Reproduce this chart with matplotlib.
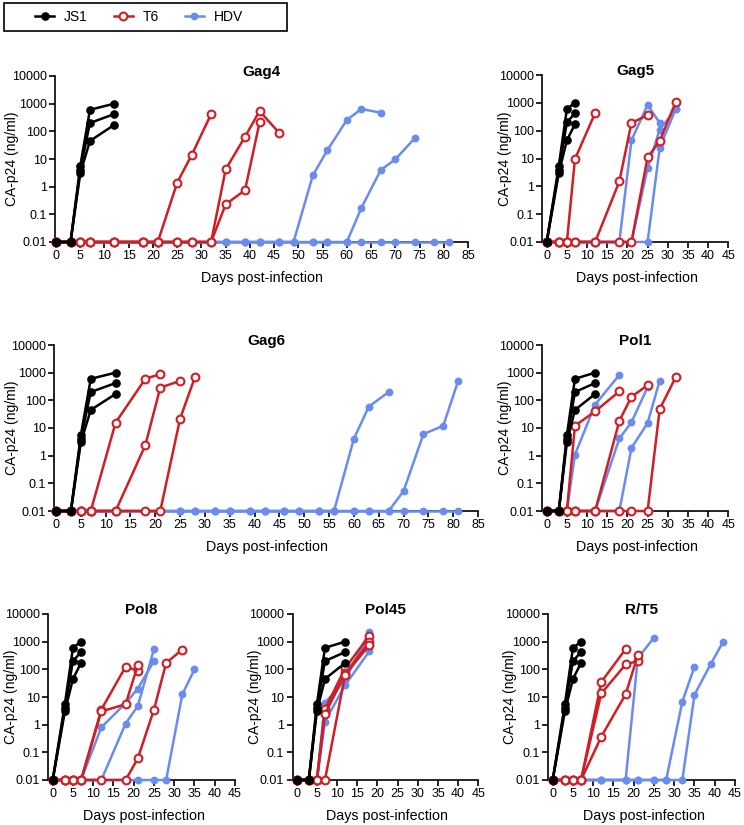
import matplotlib
matplotlib.use('Agg')
import matplotlib.pyplot as plt
from matplotlib.lines import Line2D
from matplotlib.patches import Rectangle

plt.rcParams['font.family'] = ['Liberation Sans', 'DejaVu Sans']

B = 0.01  # detection limit / baseline value

# ---------------- data ----------------
JS1_DAYS_LONG = [0, 3, 5, 7, 12]
JS1_VALUES_LONG = [[B, B, 5.5, 600, 1000], [B, B, 4, 200, 420], [B, B, 3, 45, 170]]
JS1_DAYS_SHORT = [0, 3, 5, 7]
JS1_VALUES_SHORT = [[B, 5.5, 600, 1000], [B, 4, 200, 420], [B, 3, 45, 170]]

LONG_DAYS = [0, 3, 5, 7, 12, 18, 21, 25, 28, 32, 35, 39, 42, 46, 49, 53, 56, 60, 63, 67, 70, 74, 78, 81]

GAG4_T6 = [
    ([0, 3, 5, 7, 12, 18, 21, 25, 28, 32], [B, B, B, B, B, B, B, 1.4, 14, 420]),
    ([0, 3, 5, 7, 12, 18, 21, 25, 28, 32, 35, 39, 42, 46], [B, B, B, B, B, B, B, B, B, B, 4.2, 64, 540, 90]),
    ([0, 3, 5, 7, 12, 18, 21, 25, 28, 32, 35, 39, 42], [B, B, B, B, B, B, B, B, B, B, 0.23, 0.75, 210]),
]
GAG4_HDV = [
    ([0, 3, 5, 7, 12, 18, 21, 25, 28, 32, 35, 39, 42, 46, 49, 53, 56, 60, 63, 67],
     [B, B, B, B, B, B, B, B, B, B, B, B, B, B, B, 2.6, 21, 257, 646, 470]),
    ([0, 3, 5, 7, 12, 18, 21, 25, 28, 32, 35, 39, 42, 46, 49, 53, 56, 60, 63, 67, 70, 74],
     [B, B, B, B, B, B, B, B, B, B, B, B, B, B, B, B, B, B, 0.17, 4, 9.7, 56]),
    (LONG_DAYS, [B, B, B, B, B, B, B, B, B, B, B, B, B, B, B, B, B, B, B, B, B, B, B, B]),
]

GAG5_T6 = [
    ([0, 3, 5, 7, 12], [B, B, B, 9.5, 430]),
    ([0, 3, 5, 7, 12, 18, 21, 25], [B, B, B, B, B, 1.5, 190, 360]),
    ([0, 3, 5, 7, 12, 18, 21, 25, 28, 32], [B, B, B, B, B, B, B, 11, 42, 1100]),
]
GAG5_HDV = [
    ([0, 3, 5, 7, 12, 18, 21, 25, 28], [B, B, B, B, B, B, 45, 850, 190]),
    ([0, 3, 5, 7, 12, 18, 21, 25, 28, 32], [B, B, B, B, B, B, B, 4.5, 110, 600]),
    ([0, 3, 5, 7, 12, 18, 21, 25, 28, 32], [B, B, B, B, B, B, B, B, 24, 620]),
]

GAG6_T6 = [
    ([0, 3, 5, 7, 12, 18, 21], [B, B, B, B, 15.6, 600, 890]),
    ([0, 3, 5, 7, 12, 18, 21, 25], [B, B, B, B, B, 2.4, 290, 500]),
    ([0, 3, 5, 7, 12, 18, 21, 25, 28], [B, B, B, B, B, B, B, 22, 700]),
]
GAG6_HDV = [
    ([0, 3, 5, 7, 12, 18, 21, 25, 28, 32, 35, 39, 42, 46, 49, 53, 56, 60, 63, 67],
     [B, B, B, B, B, B, B, B, B, B, B, B, B, B, B, B, B, 4.1, 59, 200]),
    (LONG_DAYS, [B, B, B, B, B, B, B, B, B, B, B, B, B, B, B, B, B, B, B, B, 0.052, 6, 12, 500]),
    (LONG_DAYS, [B, B, B, B, B, B, B, B, B, B, B, B, B, B, B, B, B, B, B, B, B, B, B, B]),
]

POL1_T6 = [
    ([0, 3, 5, 7, 12, 18], [B, B, B, 12, 40, 210]),
    ([0, 3, 5, 7, 12, 18, 21, 25], [B, B, B, B, B, 18, 135, 350]),
    ([0, 3, 5, 7, 12, 18, 21, 25, 28, 32], [B, B, B, B, B, B, B, B, 48, 700]),
]
POL1_HDV = [
    ([0, 3, 5, 7, 12, 18], [B, B, B, 1.1, 70, 830]),
    ([0, 3, 5, 7, 12, 18, 21, 25], [B, B, B, B, B, 4.2, 16, 300]),
    ([0, 3, 5, 7, 12, 18, 21, 25, 28], [B, B, B, B, B, B, 1.9, 15, 520]),
]

POL8_T6 = [
    ([0, 3, 5, 7, 12, 18, 21], [B, B, B, B, 3.5, 125, 90]),
    ([0, 3, 5, 7, 12, 18, 21], [B, B, B, B, 3.0, 5.5, 140]),
    ([0, 3, 5, 7, 12, 18, 21, 25, 28, 32], [B, B, B, B, B, B, 0.06, 3.5, 170, 520]),
]
POL8_HDV = [
    ([0, 3, 5, 7, 12, 18, 21, 25], [B, B, B, B, 0.8, 6, 20, 200]),
    ([0, 3, 5, 7, 12, 18, 21, 25], [B, B, B, B, B, 1.1, 4.7, 540]),
    ([0, 3, 5, 7, 12, 18, 21, 25, 28, 32, 35], [B, B, B, B, B, B, B, B, B, 12.5, 100]),
]

POL45_T6 = [
    ([0, 3, 5, 7, 12, 18], [B, B, B, 3.6, 110, 1650]),
    ([0, 3, 5, 7, 12, 18], [B, B, B, 2.4, 72, 950]),
    ([0, 3, 5, 7, 12, 18], [B, B, B, B, 65, 750]),
]
POL45_HDV = [
    ([0, 3, 5, 7, 12, 18], [B, B, B, 6.2, 40, 2300]),
    ([0, 3, 5, 7, 12, 18], [B, B, B, 1.3, 27, 450]),
    ([0, 3, 5, 7, 12, 18], [B, B, B, 3.0, 55, 1400]),
]

RT5_T6 = [
    ([0, 3, 5, 7, 12, 18], [B, B, B, B, 35, 540]),
    ([0, 3, 5, 7, 12, 18, 21], [B, B, B, B, 13.5, 150, 200]),
    ([0, 3, 5, 7, 12, 18, 21], [B, B, B, B, 0.37, 12.5, 320]),
]
RT5_HDV = [
    ([0, 3, 5, 7, 12, 18, 21, 25], [B, B, B, B, B, B, 250, 1400]),
    ([0, 3, 5, 7, 12, 18, 21, 25, 28, 32, 35], [B, B, B, B, B, B, B, B, B, 6.8, 125]),
    ([0, 3, 5, 7, 12, 18, 21, 25, 28, 32, 35, 39, 42], [B, B, B, B, B, B, B, B, B, B, 12, 155, 950]),
]

Y_TICKS = [0.01, 0.1, 1, 10, 100, 1000, 10000]
Y_TICK_LABELS = ['0.01', '0.1', '1', '10', '100', '1000', '10000']
SERIES_NAMES = ['JS1', 'T6', 'HDV']
X_LABEL = 'Days post-infection'
Y_LABEL = 'CA-p24 (ng/ml)'

# ---------------- style / layout ----------------
W, H = 744, 825
BLACK = '#000000'
RED = '#CF1F25'
BLUE = '#6A8CEE'

def fx(x):
    return x / W

def fy(y):
    return 1 - y / H

# name, data, js1 variant, spine_x, zero_x, right_x, top_y, bottom_y, xmax, ylabel_x
PANELS = [
    ('Gag4', GAG4_T6, GAG4_HDV, 'long', 55, 56, 468, 76, 242, 85, 12),
    ('Gag5', GAG5_T6, GAG5_HDV, 'short', 542, 546.7, 728.3, 75, 242, 45, 505),
    ('Gag6', GAG6_T6, GAG6_HDV, 'long', 54, 56, 478, 345, 511, 85, 12),
    ('Pol1', POL1_T6, POL1_HDV, 'long', 542, 546.7, 728.3, 345, 511, 45, 505),
    ('Pol8', POL8_T6, POL8_HDV, 'short', 48.3, 52.7, 235, 614, 780, 45, 11),
    ('Pol45', POL45_T6, POL45_HDV, 'long', 292.7, 296.7, 478.3, 614, 780, 45, 255),
    ('R/T5', RT5_T6, RT5_HDV, 'short', 548.3, 552.7, 735, 614, 780, 45, 510),
]

fig = plt.figure(figsize=(W / 100, H / 100), dpi=100)

LW = 1.8
for (name, t6, hdv, js1v, sx, zx, rx, ty, by, xmax, ylx) in PANELS:
    ax = fig.add_axes([fx(sx), fy(by), (rx - sx) / W, (by - ty) / H])
    ppd = (rx - zx) / xmax
    xleft = -(zx - sx) / ppd
    ax.set_xlim(xleft, xmax)
    ax.set_yscale('log')
    ax.set_ylim(0.01, 10000)

    for d, v in hdv:
        ax.plot(d, v, color=BLUE, lw=LW, marker='o', ms=4.6, mfc=BLUE, mec=BLUE,
                clip_on=False, zorder=3)
    for d, v in t6:
        ax.plot(d, v, color=RED, lw=LW, marker='o', ms=5.6, mfc='white', mec=RED,
                mew=1.5, clip_on=False, zorder=4)
    if js1v == 'long':
        jd, jv = JS1_DAYS_LONG, JS1_VALUES_LONG
    else:
        jd, jv = JS1_DAYS_SHORT, JS1_VALUES_SHORT
    for v in jv:
        ax.plot(jd, v, color=BLACK, lw=LW, marker='o', ms=5.2, mfc=BLACK, mec=BLACK,
                clip_on=False, zorder=5)

    ax.set_xticks(list(range(0, xmax + 1, 5)))
    ax.set_yticks(Y_TICKS)
    ax.set_yticklabels(Y_TICK_LABELS)
    ax.minorticks_off()
    ax.tick_params(axis='both', which='major', direction='out', length=4, width=1.2,
                   labelsize=9, pad=2, colors='black')
    for s in ['top', 'right']:
        ax.spines[s].set_visible(False)
    for s in ['left', 'bottom']:
        ax.spines[s].set_linewidth(1.2)
    ax.spines['bottom'].set_bounds(xleft, xmax)
    ax.patch.set_alpha(0)

    ax.text(0.5, 1.0 + 4.0 / (by - ty), name, transform=ax.transAxes, ha='center',
            va='center', fontsize=11, fontweight='bold')
    fig.text(fx((sx + rx) / 2 + (zx - sx) / 2), fy(by + 36), X_LABEL, ha='center', va='center',
             fontsize=10.3)
    fig.text(fx(ylx), fy((ty + by) / 2), Y_LABEL, rotation=90, ha='center', va='center',
             fontsize=10)

handles = [
    Line2D([], [], color=BLACK, lw=LW, marker='o', ms=5.2, mfc=BLACK, mec=BLACK),
    Line2D([], [], color=RED, lw=LW, marker='o', ms=5.6, mfc='white', mec=RED, mew=1.5),
    Line2D([], [], color=BLUE, lw=LW, marker='o', ms=4.6, mfc=BLUE, mec=BLUE),
]
leg = fig.legend(handles, SERIES_NAMES, loc='center', bbox_to_anchor=(fx(139), fy(17)),
                 ncol=3, frameon=False, fontsize=10,
                 handlelength=1.35, handletextpad=0.7, columnspacing=1.9, borderpad=0.45,
                 borderaxespad=0)
fig.patches.append(Rectangle((fx(4), fy(31)), 283 / W, 28 / H, transform=fig.transFigure,
                             fill=False, edgecolor='black', linewidth=1.2, figure=fig))

fig.savefig('out.png', dpi=100)
